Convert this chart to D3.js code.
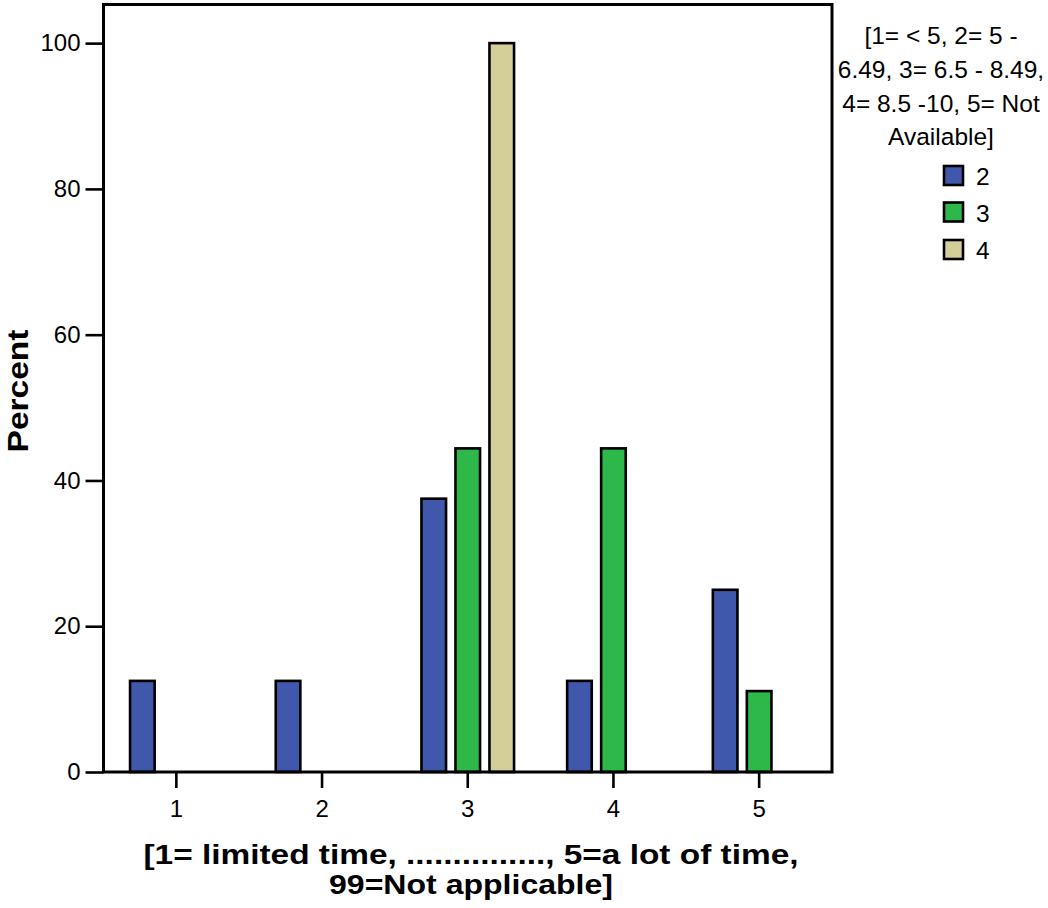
<!DOCTYPE html>
<html>
<head>
<meta charset="utf-8">
<script src="https://cdn.jsdelivr.net/npm/d3@7"></script>
<style>
  body { margin: 0; background: #fff; }
  svg { display: block; font-family: "Liberation Sans", Arial, sans-serif; }
</style>
</head>
<body>
<svg id="chart" width="1048" height="908"></svg>
<script>
const categories = ["1", "2", "3", "4", "5"];
const seriesNames = ["2", "3", "4"];
const series2 = [12.5, 12.5, 37.5, 12.5, 25];
const series3 = [0, 0, 44.4, 44.4, 11.1];
const series4 = [0, 0, 100, 0, 0];
const seriesColors = ["#3f58ab", "#2fb84a", "#d4cf98"];
const yTicks = [0, 20, 40, 60, 80, 100];
const legendTitle = ["[1= < 5, 2= 5 -", "6.49, 3= 6.5 - 8.49,", "4= 8.5 -10, 5= Not", "Available]"];
const xTitle = ["[1= limited time, ..............., 5=a lot of time,", "99=Not applicable]"];
const yTitle = "Percent";

const seriesValues = [series2, series3, series4];

const svg = d3.select("#chart");
const plotLeft = 103.5, plotRight = 832, plotTop = 4.5, plotBottom = 772;

const x = d3.scaleBand().domain(categories).range([plotLeft, plotRight]).padding(0);
const xInner = d3.scaleBand().domain(seriesNames)
  .range([-51, 51]).paddingInner(0.2).paddingOuter(0.1);
const y = d3.scaleLinear().domain([0, 105.3]).range([plotBottom, plotTop]);

// bars
const barStroke = 2.6;
seriesNames.forEach((s, si) => {
  const data = categories.map((c, ci) => ({ c, v: seriesValues[si][ci] })).filter(d => d.v > 0);
  svg.append("g").selectAll("rect").data(data).join("rect")
    .attr("x", d => x(d.c) + x.bandwidth() / 2 + xInner(s) + barStroke / 2)
    .attr("width", xInner.bandwidth() - barStroke)
    .attr("y", d => y(d.v))
    .attr("height", d => y(0) - y(d.v))
    .attr("fill", seriesColors[si])
    .attr("stroke", "#000")
    .attr("stroke-width", barStroke);
});

// frame
svg.append("rect")
  .attr("x", plotLeft).attr("y", plotTop)
  .attr("width", plotRight - plotLeft).attr("height", plotBottom - plotTop)
  .attr("fill", "none").attr("stroke", "#000").attr("stroke-width", 3);

// y axis
const yAxis = d3.axisLeft(y).tickValues(yTicks).tickSize(18).tickPadding(5).tickFormat(d3.format("d"));
const gy = svg.append("g").attr("transform", `translate(${plotLeft},0)`).call(yAxis);
gy.select(".domain").remove();
gy.selectAll(".tick line").attr("stroke", "#000").attr("stroke-width", 2.6);
gy.selectAll(".tick text").attr("font-size", 24).attr("fill", "#000")
  .attr("font-family", "Liberation Sans, Arial, sans-serif");

// x axis
const xAxis = d3.axisBottom(x).tickSize(16).tickPadding(12);
const gx = svg.append("g").attr("transform", `translate(0,${plotBottom})`).call(xAxis);
gx.select(".domain").remove();
gx.selectAll(".tick line").attr("stroke", "#000").attr("stroke-width", 2.6);
gx.selectAll(".tick text").attr("font-size", 24).attr("fill", "#000")
  .attr("font-family", "Liberation Sans, Arial, sans-serif");

// x title
const xTitleWidths = [655, 284];
const xTitleBaselines = [864, 894];
xTitle.forEach((t, i) => {
  svg.append("text")
    .attr("x", 471).attr("y", xTitleBaselines[i])
    .attr("text-anchor", "middle")
    .attr("font-size", 28.5).attr("font-weight", "bold")
    .attr("textLength", xTitleWidths[i]).attr("lengthAdjust", "spacingAndGlyphs")
    .text(t);
});

// y title
svg.append("text")
  .attr("transform", "translate(28,391) rotate(-90)")
  .attr("text-anchor", "middle")
  .attr("font-size", 30).attr("font-weight", "bold")
  .attr("textLength", 123).attr("lengthAdjust", "spacingAndGlyphs")
  .text(yTitle);

// legend
const legendBaselines = [44, 78, 112, 145];
legendTitle.forEach((t, i) => {
  svg.append("text")
    .attr("x", 941).attr("y", legendBaselines[i])
    .attr("text-anchor", "middle")
    .attr("font-size", 24.5)
    .text(t);
});
const legendY = [176, 212.5, 250];
seriesNames.forEach((s, i) => {
  svg.append("rect")
    .attr("x", 944).attr("y", legendY[i] - 10)
    .attr("width", 19).attr("height", 19)
    .attr("fill", seriesColors[i]).attr("stroke", "#000").attr("stroke-width", 2.6);
  svg.append("text")
    .attr("x", 976).attr("y", legendY[i] + 9)
    .attr("font-size", 24.5)
    .text(s);
});
</script>
</body>
</html>
